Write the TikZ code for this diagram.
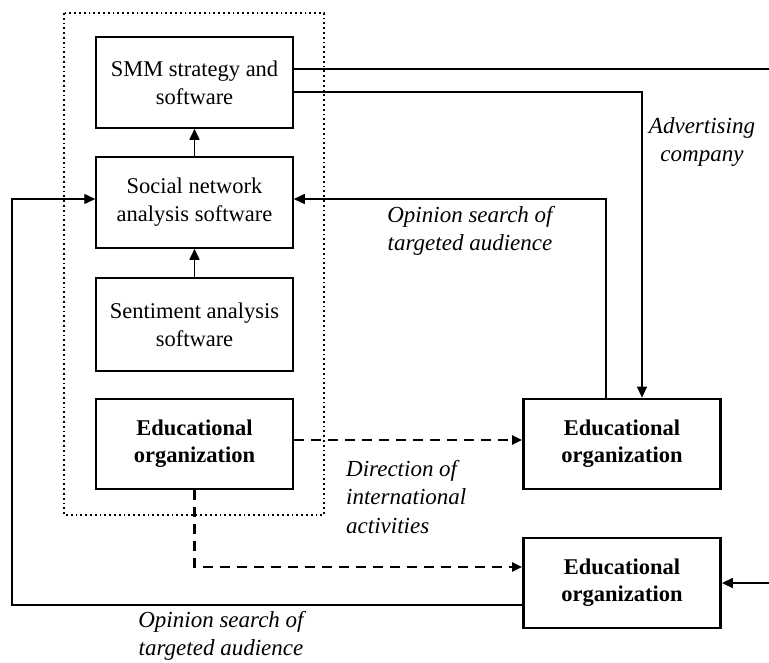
\documentclass[tikz,border=0pt]{standalone}
\usepackage{fontspec}
\setmainfont{Liberation Serif}
\usetikzlibrary{arrows.meta}
\begin{document}
\begin{tikzpicture}[x=1pt,y=-1pt,
  box/.style={draw,line width=1.5pt,minimum width=197pt,minimum height=91pt,align=center,inner sep=0pt,font=\fontsize{22.5}{28}\selectfont},
  edubox/.style={draw,line width=2.8pt,minimum width=197pt,minimum height=90pt,align=center,inner sep=0pt,font=\fontsize{22.5}{27}\selectfont\bfseries},
  lbl/.style={align=center,inner sep=0pt,font=\fontsize{23}{28.5}\selectfont\itshape},
  conn/.style={line width=1.4pt,-{Triangle[length=11pt,width=10pt]}},
  line/.style={line width=1.4pt},
  dconn/.style={line width=2.6pt,dash pattern=on 10pt off 7pt,-{Triangle[length=10pt,width=9pt]}}
]
\useasboundingbox (0,0) rectangle (769,662);
\draw[line width=1.8pt,dash pattern=on 1.8pt off 3pt] (64,13) rectangle (324,515);
\node[box] (smm) at (194.5,82.5) {SMM strategy and\\software};
\node[box] (sna) at (194.5,202.5) {Social network\\analysis software};
\node[box,minimum height=93pt] (sent) at (194.5,324.5) {Sentiment analysis\\software};
\node[edubox] (edu1) at (194.5,444) {Educational\\organization};
\node[edubox] (edu2) at (622,444) {Educational\\organization};
\node[edubox] (edu3) at (622,583) {Educational\\organization};
\coordinate (rtop) at (769,69);
\coordinate (rbot) at (769,583);
\coordinate (lcorner) at (12,199);
\draw[conn] (sna.north) -- (smm.south);
\draw[conn] (sent.north) -- (sna.south);
\draw[line] ([yshift=13.5pt]smm.east) -- (rtop);
\draw[conn] ([yshift=-9.5pt]smm.east) -| ([xshift=20pt]edu2.north);
\draw[conn] ([xshift=-16pt]edu2.north) |- ([yshift=3.5pt]sna.east);
\draw[conn] ([yshift=-22pt]edu3.west) -| (lcorner) -- ([yshift=3.5pt]sna.west);
\draw[conn] (rbot) -- (edu3.east);
\draw[dconn] ([yshift=4pt]edu1.east) -- ([yshift=4pt]edu2.west);
\draw[dconn] (edu1.south) |- ([yshift=16pt]edu3.west);
\node[lbl] (adv) at (702,142) {Advertising\\company};
\node[lbl] (op1) at (470,231) {Opinion search of\\targeted audience};
\node[lbl,align=left,anchor=west] (dir) at (346,497) {Direction of\\international\\activities};
\node[lbl] (op2) at (221,636) {Opinion search of\\targeted audience};
\end{tikzpicture}
\end{document}
